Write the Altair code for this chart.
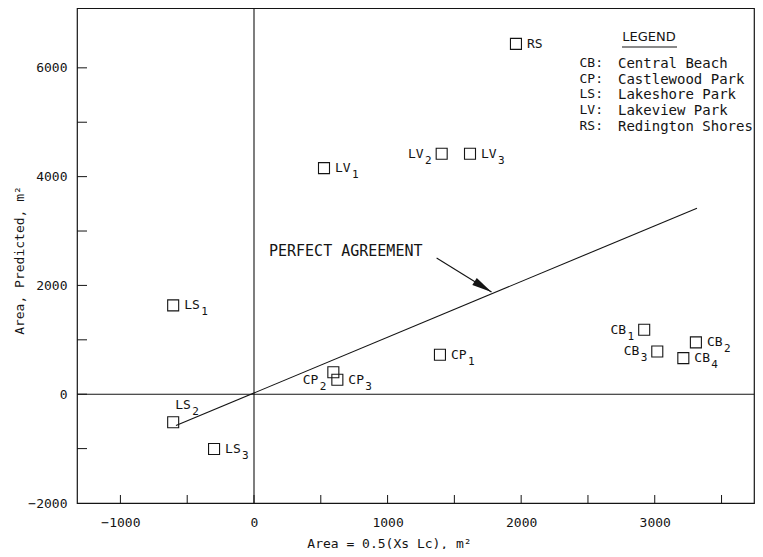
import altair as alt
import pandas as pd

# ---------------- data ----------------
site = ["RS", "LV", "LV", "LV", "LS", "LS", "LS", "CP", "CP", "CP", "CB", "CB", "CB", "CB"]
sub = ["", "1", "2", "3", "1", "2", "3", "1", "2", "3", "1", "2", "3", "4"]
measured = [1961, 524, 1405, 1617, -605, -605, -299, 1392, 594, 624, 2921, 3308, 3019, 3214]
predicted = [6440, 4157, 4420, 4420, 1633, -516, -1006, 726, 405, 265, 1186, 952, 786, 663]
placement = ["right", "right", "left", "right", "right", "above", "right", "right",
             "below-left", "right", "left", "right", "left", "right"]

line_x = [-584, 3316]
line_y = [-576, 3420]

arrow_start = (1367, 2505)
arrow_tip = (1778, 1878)
note_text = "PERFECT AGREEMENT"
note_pos = (112, 2641)

legend_abbr = ["CB:", "CP:", "LS:", "LV:", "RS:"]
legend_names = ["Central Beach", "Castlewood Park", "Lakeshore Park", "Lakeview Park", "Redington Shores"]

x_ticks = [-1000, -500, 0, 500, 1000, 1500, 2000, 2500, 3000, 3500]
y_ticks = [-1000, 0, 1000, 2000, 3000, 4000, 5000, 6000]
x_labels = [-1000, 0, 1000, 2000, 3000]
y_labels = [-2000, 0, 2000, 4000, 6000]

# ---------------- style ----------------
MONO = "DejaVu Sans Mono"
INK = "#141414"
W, H = 677, 495

df = pd.DataFrame({"site": site, "sub": sub, "measured": measured,
                   "predicted": predicted, "placement": placement})

X = alt.X("measured:Q",
          scale=alt.Scale(domain=[-1325, 3743], nice=False, zero=False),
          axis=alt.Axis(values=x_labels, title="Area = 0.5(Xs Lc), m²", labelPadding=13,
                        titleX=312, titleY=40, titleAlign="center", titleBaseline="middle",
                        titleAnchor="start", format="d"))
Y = alt.Y("predicted:Q",
          scale=alt.Scale(domain=[-2000, 7100], nice=False, zero=False),
          axis=alt.Axis(values=y_labels, title="Area, Predicted, m²", labelPadding=10,
                        titleX=-58, titleY=252, titleAngle=270, titleAlign="center",
                        titleBaseline="middle", format="d"))

base = alt.Chart(df)

points = base.mark_point(shape="square", filled=False, size=121, color=INK,
                         strokeWidth=1.1, opacity=1).encode(x=X, y=Y)


def label_layers(place, dxm, dym, alignm, dxs, dys, aligns):
    sel = base.transform_filter(alt.datum.placement == place)
    main = sel.mark_text(align=alignm, baseline="middle", dx=dxm, dy=dym, font=MONO,
                         fontSize=13, color=INK).encode(x=X, y=Y, text="site:N")
    subl = sel.mark_text(align=aligns, baseline="middle", dx=dxs, dy=dys, font=MONO,
                         fontSize=11, color=INK).encode(x=X, y=Y, text="sub:N")
    return [main, subl]


labels = []
labels += label_layers("right", 11, 0, "left", 28, 7, "left")
labels += label_layers("left", -18, 0, "right", -10, 7, "right")
labels += label_layers("above", 2, -17, "left", 19, -10, "left")
labels += label_layers("below-left", -15, 8, "right", -7, 15, "right")

zero_df = pd.DataFrame({"measured": [0], "predicted": [0]})
zero_v = alt.Chart(zero_df).mark_rule(color=INK, strokeWidth=1.1).encode(x=X)
zero_h = alt.Chart(zero_df).mark_rule(color=INK, strokeWidth=1.1).encode(y=Y)

xt = alt.Chart(pd.DataFrame({"measured": x_ticks})).mark_rule(color=INK, strokeWidth=1).encode(
    x=X, y=alt.value(H), y2=alt.value(H - 8))
yt = alt.Chart(pd.DataFrame({"predicted": y_ticks})).mark_rule(color=INK, strokeWidth=1).encode(
    y=Y, x=alt.value(0), x2=alt.value(10))

agree = alt.Chart(pd.DataFrame({"measured": line_x, "predicted": line_y})).mark_line(
    color=INK, strokeWidth=1.1).encode(x=X, y=Y)

arrow_df = pd.DataFrame({"measured": [arrow_start[0]], "predicted": [arrow_start[1]],
                         "m2": [arrow_tip[0]], "p2": [arrow_tip[1]]})
shaft = alt.Chart(arrow_df).mark_rule(color=INK, strokeWidth=1.1).encode(
    x=X, y=Y, x2="m2:Q", y2="p2:Q")
head_df = pd.DataFrame({"measured": [arrow_tip[0]], "predicted": [arrow_tip[1]]})
head = alt.Chart(head_df).mark_point(shape="M0,0 L0.42,2 L-0.42,2 Z", filled=True, size=400,
                                     angle=122, color=INK, opacity=1, strokeWidth=0).encode(x=X, y=Y)

note_df = pd.DataFrame({"measured": [note_pos[0]], "predicted": [note_pos[1]], "t": [note_text]})
note = alt.Chart(note_df).mark_text(align="left", baseline="middle", font=MONO, fontSize=15,
                                    color=INK).encode(x=X, y=Y, text="t:N")

one = pd.DataFrame({"k": [0]})
leg_title = alt.Chart(one).mark_text(align="center", baseline="middle", font="DejaVu Sans",
                                     fontSize=13, color=INK).encode(
    x=alt.value(572), y=alt.value(29), text=alt.value("LEGEND"))
leg_line = alt.Chart(one).mark_rule(color=INK, strokeWidth=1.2).encode(
    x=alt.value(545), x2=alt.value(600), y=alt.value(39))
leg_abbr = alt.Chart(one).mark_text(align="right", baseline="top", font=MONO, fontSize=13,
                                    lineHeight=15.7, color=INK).encode(
    x=alt.value(526), y=alt.value(49), text=alt.value(legend_abbr))
leg_names = alt.Chart(one).mark_text(align="left", baseline="top", font=MONO, fontSize=14,
                                     lineHeight=15.7, color=INK).encode(
    x=alt.value(541), y=alt.value(49), text=alt.value(legend_names))

chart = alt.layer(
    zero_v, zero_h, xt, yt, agree, shaft, head, points, *labels, note,
    leg_title, leg_line, leg_abbr, leg_names
).properties(
    width=W, height=H,
    autosize=alt.AutoSizeParams(type="none"),
    padding={"left": 69, "top": 0, "right": 1, "bottom": 46},
).configure_view(
    stroke=INK, strokeWidth=1.2
).configure_axis(
    domain=False, ticks=False, grid=False,
    labelFont=MONO, labelFontSize=13, labelColor=INK,
    titleFont=MONO, titleFontSize=13, titleFontWeight="normal", titleColor=INK
)

chart.save("out.html", embed_options={"renderer": "svg", "actions": False})
